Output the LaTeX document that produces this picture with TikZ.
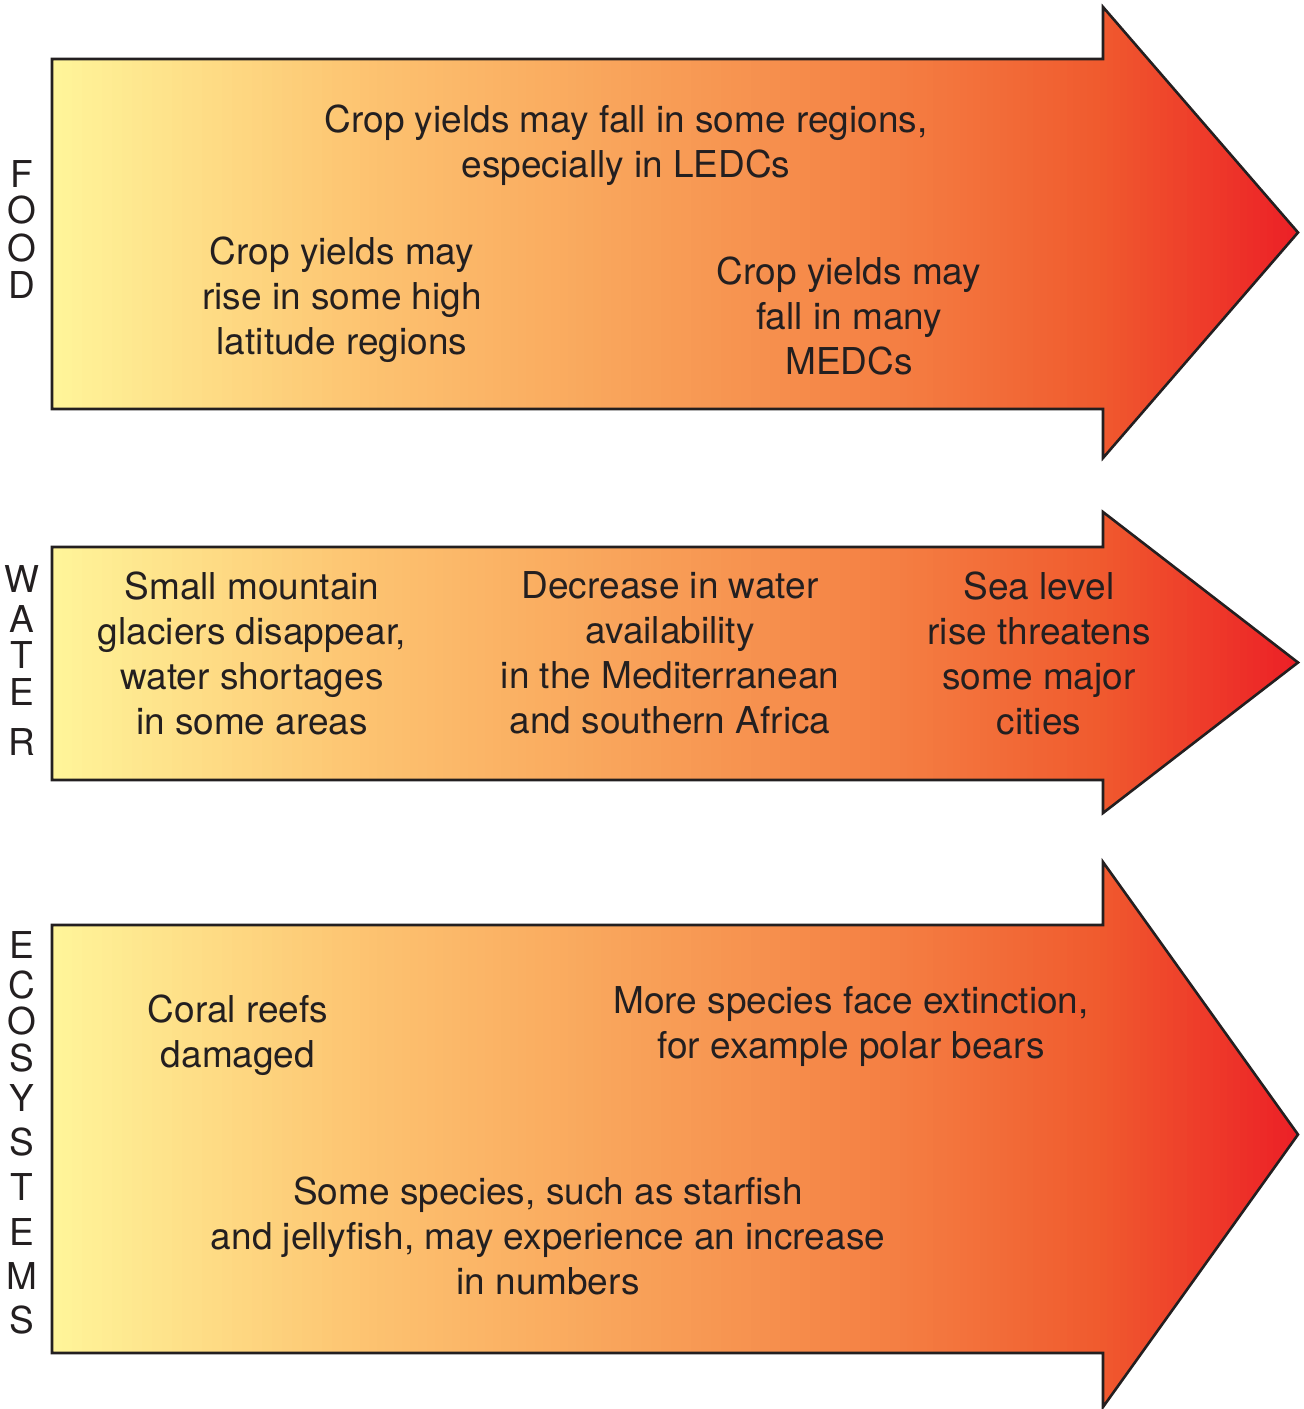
\documentclass[tikz,border=0pt]{standalone}
\usepackage{fontspec}
\setmainfont{TeX Gyre Heros}
\usetikzlibrary{positioning}
\definecolor{heatA}{HTML}{FFF59A}
\definecolor{heatB}{HTML}{FDC572}
\definecolor{heatC}{HTML}{F9A65C}
\definecolor{heatD}{HTML}{F47E42}
\definecolor{heatE}{HTML}{F05A2E}
\definecolor{heatF}{HTML}{EC1F26}
\definecolor{ink}{HTML}{231F20}
\tikzset{
  band/.style ={draw=ink, line width=1.3pt, line join=miter,
                path picture={
                  % gradient built from thin strips
                  \foreach \xa/\xb/\ca/\cb in {52/352/heatA/heatB, 352/601/heatB/heatC,
                      601/900/heatC/heatD, 900/1100/heatD/heatE, 1100/1300/heatE/heatF}
                    \foreach \j in {0,...,29}{
                      \pgfmathsetmacro\p{100*(\j+0.5)/30}
                      \fill[\cb!\p!\ca] ({\xa+(\xb-\xa)*\j/30},0)
                        rectangle ({\xa+(\xb-\xa)*(\j+1)/30+1},-1420);
                    }
                }},
  note/.style ={align=center, text=ink, inner sep=0pt,
                font=\fontsize{18.5}{22.5}\selectfont},
  side/.style ={text=ink, inner sep=0pt, font=\fontsize{18.5}{22.5}\selectfont},
}
\begin{document}
\begin{tikzpicture}[x=0.5pt,y=0.5pt]
  \useasboundingbox (0,0) rectangle (1303,-1409);
  % arrows: body top/bottom, head top/bottom
  \foreach \bt/\bb/\ht/\hb in {59/409/7/458, 547/780/512/813, 925/1353/862/1407}
    \draw[band] (52,-\bt) -- (1103,-\bt) -- (1103,-\ht) -- (1298,{-(\ht+\hb)/2})
      -- (1103,-\hb) -- (1103,-\bb) -- (52,-\bb) -- cycle;
  % side labels
  \foreach \ch/\y [count=\i] in {F/174,O/210,O/248,D/285}
    \node[side] (foodlbl\i) at (22,-\y) {\ch};
  \foreach \ch/\y [count=\i] in {W/579,A/619,T/655,E/692,R/742}
    \node[side] (waterlbl\i) at (22,-\y) {\ch};
  \foreach \ch/\y [count=\i] in {E/945,C/985,O/1021,S/1058,Y/1098,S/1142,T/1187,E/1232,M/1276,S/1320}
    \node[side] (ecolbl\i) at (22,-\y) {\ch};
  % food
  \node[note] (foodtop) at (626,-145) {Crop yields may fall in some regions,\\especially in LEDCs};
  \node[note] (foodleft) at (342,-300) {Crop yields may\\rise in some high\\latitude regions};
  \node[note] (foodright) at (849,-316) {Crop yields may\\fall in many\\MEDCs};
  % water
  \node[note] (waterleft) at (252,-653) {Small mountain\\glaciers disappear,\\water shortages\\in some areas};
  \node[note] (watermid) at (670,-653) {Decrease in water\\availability\\in the Mediterranean\\and southern Africa};
  \node[note] (waterright) at (1039,-653) {Sea level\\rise threatens\\some major\\cities};
  % ecosystems
  \node[note] (ecocoral) at (238,-1035) {Coral reefs\\damaged};
  \node[note] (ecoextinct) at (851,-1026) {More species face extinction,\\for example polar bears};
  \node[note] (ecoincrease) at (548,-1236) {Some species, such as starfish\\and jellyfish, may experience an increase\\in numbers};
\end{tikzpicture}
\end{document}
